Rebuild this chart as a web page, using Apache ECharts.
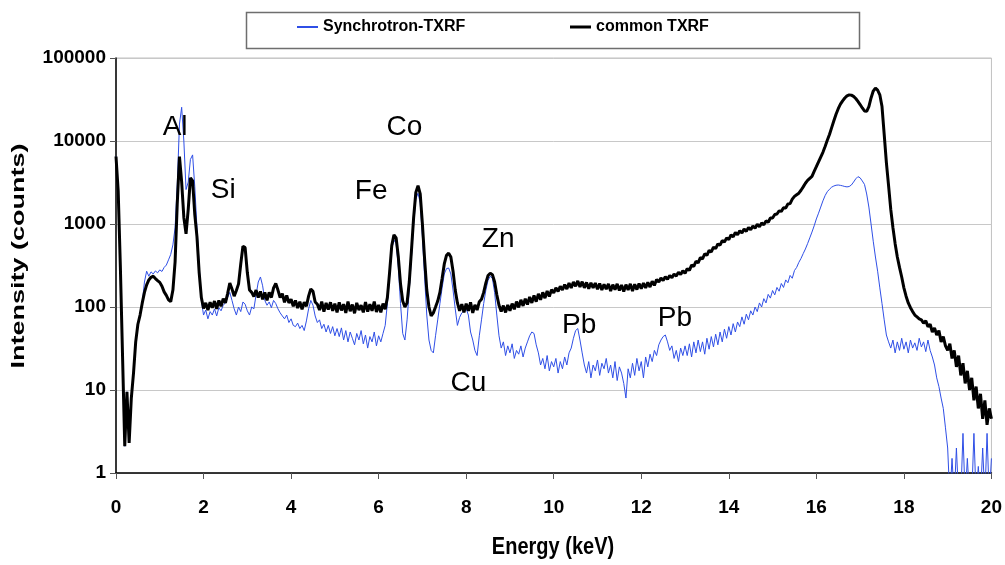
<!DOCTYPE html>
<html>
<head>
<meta charset="utf-8">
<script src="https://cdn.jsdelivr.net/npm/echarts@6/dist/echarts.min.js"></script>
<style>
  html, body { margin: 0; padding: 0; background: #fff; }
  #chart { width: 1005px; height: 565px; }
</style>
</head>
<body>
<div id="chart"></div>
<script>
// Spectra sampled every 0.05 keV from 0 to 20 keV (401 channels)
const energyStep = 0.05;

// Synchrotron-TXRF spectrum (counts)
const synchrotron = [
  6500, 2500, 300, 25, 2.1, 9.5, 2.3, 8, 16, 38, 60, 80, 112, 200, 270, 235, 265, 250, 272, 258,
  280, 268, 300, 320, 370, 430, 560, 900, 3000, 16000, 25500, 10000, 2600, 3200, 6000, 6800, 2800, 900, 320, 120,
  80, 92, 72, 88, 80, 95, 78, 98, 90, 105, 112, 130, 150, 120, 95, 80, 100, 88, 115, 108,
  90, 80, 100, 95, 140, 200, 230, 180, 120, 105, 115, 98, 120, 110, 95, 85, 78, 72, 80, 65,
  72, 60, 58, 64, 55, 60, 52, 68, 95, 120, 105, 78, 65, 70, 55, 62, 50, 60, 48, 58,
  45, 55, 44, 56, 40, 52, 38, 50, 42, 35, 48, 40, 52, 36, 46, 32, 44, 38, 50, 34,
  45, 38, 48, 60, 110, 230, 500, 640, 580, 300, 110, 48, 40, 70, 160, 400, 1000, 2000, 2350, 1800,
  700, 230, 80, 40, 30, 28, 45, 70, 110, 170, 250, 290, 295, 250, 160, 95, 60, 75, 85, 90,
  95, 80, 50, 40, 30, 26, 45, 70, 110, 160, 210, 235, 220, 150, 80, 45, 32, 38, 26, 34,
  28, 36, 24, 30, 27, 34, 25, 32, 38, 45, 50, 48, 35, 28, 20, 24, 18, 26, 17, 22,
  19, 24, 16, 22, 18, 25, 20, 28, 32, 42, 52, 55, 40, 28, 20, 16, 22, 14, 20, 17,
  23, 15, 21, 18, 24, 16, 20, 14, 22, 13, 19, 16, 12, 8, 18, 14, 21, 15, 24, 17,
  22, 14, 25, 19, 27, 22, 30, 26, 35, 40, 44, 46, 38, 30, 34, 24, 30, 22, 32, 26,
  34, 26, 36, 25, 38, 28, 40, 29, 38, 27, 42, 31, 44, 33, 47, 35, 50, 38, 54, 42,
  58, 46, 63, 50, 66, 58, 76, 62, 82, 70, 90, 80, 100, 88, 112, 100, 126, 112, 142, 128,
  158, 140, 172, 155, 192, 172, 212, 196, 240, 222, 275, 300, 345, 385, 440, 500, 580, 680, 800, 950,
  1150, 1350, 1600, 1900, 2200, 2450, 2620, 2780, 2870, 2930, 2950, 2920, 2880, 2830, 2800, 2830, 2950, 3200, 3500, 3720,
  3600, 3300, 3000, 2300, 1600, 1000, 620, 400, 270, 170, 110, 70, 46, 38, 32, 40, 28, 38, 30, 42,
  31, 38, 28, 40, 32, 37, 30, 42, 33, 38, 29, 40, 30, 25, 20, 14, 11, 8, 6, 3.5,
  2, 0.5, 1.5, 0.5, 2, 0.5, 0.5, 3, 0.5, 1.5, 0.5, 0.5, 3, 0.5, 1.2, 0.5, 2, 0.5, 3, 0.5,
  1.5
];

// Conventional (common) TXRF spectrum (counts)
const common = [
  6500, 2500, 300, 25, 2.1, 9.5, 2.3, 8, 16, 38, 62, 80, 112, 150, 185, 212, 228, 235, 220, 208,
  198, 178, 152, 138, 122, 116, 160, 350, 1800, 6500, 3200, 1200, 760, 1500, 3600, 3300, 1300, 700, 260, 130,
  96, 112, 92, 114, 98, 118, 95, 120, 102, 126, 112, 145, 195, 165, 135, 158, 190, 330, 540, 520,
  260, 160, 150, 134, 160, 130, 154, 124, 150, 120, 150, 130, 170, 192, 160, 130, 145, 114, 138, 112,
  124, 102, 120, 97, 116, 94, 114, 102, 135, 165, 155, 115, 108, 92, 116, 88, 112, 93, 114, 90,
  110, 86, 114, 91, 108, 85, 116, 89, 107, 84, 112, 92, 105, 86, 115, 88, 108, 90, 116, 87,
  106, 86, 110, 94, 130, 260, 550, 740, 680, 400, 190, 118, 100, 112, 200, 480, 1200, 2400, 2900, 2300,
  1000, 380, 160, 100, 78, 85, 100, 118, 150, 220, 330, 420, 445, 400, 270, 160, 112, 90, 108, 86,
  110, 90, 114, 85, 106, 92, 116, 124, 150, 195, 240, 255, 245, 200, 140, 105, 88, 104, 86, 106,
  90, 110, 94, 116, 99, 122, 103, 126, 107, 132, 112, 138, 116, 144, 122, 150, 128, 156, 134, 162,
  148, 170, 154, 178, 160, 186, 165, 194, 170, 200, 178, 206, 174, 202, 170, 198, 166, 196, 170, 194,
  164, 192, 160, 188, 164, 190, 156, 186, 162, 190, 158, 184, 154, 186, 160, 190, 156, 188, 162, 192,
  166, 194, 170, 198, 174, 204, 182, 214, 200, 224, 208, 232, 216, 240, 226, 250, 236, 262, 246, 274,
  255, 290, 276, 320, 308, 356, 340, 394, 380, 438, 420, 480, 460, 526, 505, 575, 556, 632, 605, 680,
  650, 740, 700, 790, 740, 830, 780, 870, 815, 910, 850, 945, 890, 990, 925, 1030, 980, 1090, 1050, 1180,
  1180, 1300, 1320, 1440, 1420, 1570, 1560, 1740, 1760, 1990, 2150, 2250, 2350, 2550, 2800, 3100, 3350, 3550, 3750, 4300,
  4900, 5600, 6400, 7300, 8600, 10200, 12000, 14500, 17500, 21000, 24500, 27800, 30500, 33000, 35000, 35900, 35700, 34500, 32500, 30000,
  27500, 25000, 23000, 22800, 26000, 33000, 40000, 43500, 41000, 36000, 26000, 12000, 5500, 2900, 1500, 900, 580, 400, 300, 230,
  170, 135, 112, 98, 88, 80, 76, 72, 70, 64, 68, 58, 62, 50, 56, 46, 52, 38, 44, 34,
  30, 36, 24, 30, 19, 26, 15, 21, 12, 17, 10, 14, 7.5, 11, 6, 9, 4.5, 7.5, 3.8, 6,
  4.5
];

// Energy axis ticks (keV) and intensity decades
const energyTicks = [0, 2, 4, 6, 8, 10, 12, 14, 16, 18, 20];
const intensityDecades = [1, 10, 100, 1000, 10000, 100000];

// Element labels: symbol, energy (keV), counts at the label centre
const elementNames = ['Al', 'Si', 'Co', 'Fe', 'Zn', 'Cu', 'Pb', 'Pb'];
const elementEnergy = [1.35, 2.45, 6.59, 5.83, 8.73, 8.05, 10.58, 12.77];
const elementCounts = [14500, 2550, 14500, 2450, 650, 12, 61, 74];

const seriesNames = ['Synchrotron-TXRF', 'common TXRF'];
const xTitle = 'Energy (keV)';
const yTitle = 'Intensity (counts)';

const toPairs = arr => arr.map((v, i) => [+(i * energyStep).toFixed(2), v]);

const FONT = '"Liberation Sans", Arial, Helvetica, sans-serif';
const BLUE = '#2f4fe6';
const chart = echarts.init(document.getElementById('chart'));

const legendText = { fontFamily: FONT, fontWeight: 'bold', fontSize: 16, color: '#000' };
const tickText = { fontFamily: FONT, fontWeight: 'bold', fontSize: 19, color: '#000' };

chart.setOption({
  animation: false,
  backgroundColor: '#ffffff',
  grid: {
    left: 116, right: 13, top: 58, bottom: 92,
    show: true, borderColor: '#c0c0c0', borderWidth: 1
  },
  legend: [
    {
      left: 297, top: 19, padding: 0, itemGap: 0,
      itemWidth: 21, itemHeight: 2, icon: 'rect', selectedMode: false,
      textStyle: legendText,
      data: [{ name: seriesNames[0], itemStyle: { color: BLUE } }]
    },
    {
      left: 570, top: 19, padding: 0, itemGap: 0,
      itemWidth: 21, itemHeight: 3, icon: 'rect', selectedMode: false,
      textStyle: legendText,
      data: [{ name: seriesNames[1], itemStyle: { color: '#000' } }]
    }
  ],
  xAxis: {
    type: 'value',
    min: energyTicks[0],
    max: energyTicks[energyTicks.length - 1],
    interval: energyTicks[1] - energyTicks[0],
    axisLine: { show: true, onZero: false, lineStyle: { color: '#000', width: 1.5 } },
    axisTick: { show: true, length: 6, lineStyle: { color: '#555' } },
    axisLabel: Object.assign({ margin: 25 }, tickText),
    splitLine: { show: false }
  },
  yAxis: {
    type: 'log',
    logBase: 10,
    min: intensityDecades[0],
    max: intensityDecades[intensityDecades.length - 1],
    axisLine: { show: true, lineStyle: { color: '#000', width: 1.5 } },
    axisTick: { show: true, length: 6, lineStyle: { color: '#555' } },
    axisLabel: Object.assign({ margin: 10, formatter: v => String(Math.round(v)) }, tickText),
    splitLine: { show: true, lineStyle: { color: '#c8c8c8', width: 1 } },
    minorTick: { show: false }
  },
  series: [
    {
      name: seriesNames[0], type: 'line', data: toPairs(synchrotron),
      showSymbol: false, symbol: 'none', clip: true,
      lineStyle: { color: BLUE, width: 1 },
      itemStyle: { color: BLUE }, z: 2
    },
    {
      name: seriesNames[1], type: 'line', data: toPairs(common),
      showSymbol: false, symbol: 'none', clip: true,
      lineStyle: { color: '#000', width: 3 },
      itemStyle: { color: '#000' }, z: 3
    }
  ]
});

// Legend frame, axis titles and element annotations
const graphics = [
  {
    type: 'rect', left: 244, top: 10,
    shape: { width: 613, height: 36 },
    style: { fill: 'none', stroke: '#6e6e6e', lineWidth: 1.5 },
    z: 1
  },
  {
    type: 'text', x: 553, y: 548, scaleY: 1.15, z: 10,
    style: {
      text: xTitle, fill: '#000', fontFamily: FONT, fontWeight: 'bold', fontSize: 20,
      align: 'center', verticalAlign: 'middle'
    }
  },
  {
    type: 'text', x: 19, y: 256, rotation: Math.PI / 2, scaleX: 1.42, z: 10,
    style: {
      text: yTitle, fill: '#000', fontFamily: FONT, fontWeight: 'bold', fontSize: 19,
      align: 'center', verticalAlign: 'middle'
    }
  }
];
elementNames.forEach((name, i) => {
  const [px, py] = chart.convertToPixel({ gridIndex: 0 }, [elementEnergy[i], elementCounts[i]]);
  graphics.push({
    type: 'text', x: px, y: py, z: 10,
    style: {
      text: name, fill: '#000', fontFamily: FONT, fontSize: 28,
      align: 'center', verticalAlign: 'middle'
    }
  });
});
chart.setOption({ graphic: graphics });
</script>
</body>
</html>
